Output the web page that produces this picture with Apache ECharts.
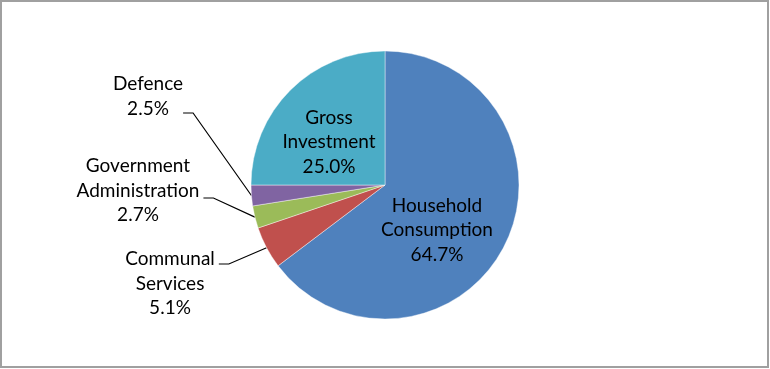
<!DOCTYPE html>
<html><head><meta charset="utf-8">
<script src="https://cdn.jsdelivr.net/npm/echarts@6/dist/echarts.min.js"></script>
<style>
html,body{margin:0;padding:0;background:#fff;}
#wrap{position:absolute;left:0;top:0;width:769px;height:368px;box-sizing:border-box;border:2px solid #a0a0a0;background:#fff;}
#chart{position:absolute;left:0;top:0;width:765px;height:364px;}
</style></head>
<body><div id="wrap"><div id="chart"></div></div>
<script>
const categories = ['Household\nConsumption', 'Communal\nServices', 'Government\nAdministration', 'Defence', 'Gross\nInvestment'];
const values = [64.7, 5.1, 2.7, 2.5, 25.0];
const colors = ['#4F81BD', '#C0504D', '#9BBB59', '#8064A2', '#4BACC6'];
// label box positions (px, relative to chart div), vertical alignment and paddings
const labelPos = [[435, 228], [170, 205.75], [138, 151.75], [146, 69.75], [327, 140]];
const labelVA = ['middle', 'top', 'top', 'top', 'middle'];
const labelPad = [[0, 0, 0, 0], [39, 4, 0, 0], [0, 4, 15, 0], [0, 0, 33.5, 0], [0, 0, 0, 0]];
const inside = [true, false, false, false, true];

const chart = echarts.init(document.getElementById('chart'), null, {renderer: 'canvas'});
const data = categories.map((c, i) => ({
  name: c,
  value: values[i],
  itemStyle: {color: colors[i]},
  label: {position: inside[i] ? 'inside' : 'outside', padding: labelPad[i]},
  labelLine: {show: !inside[i]}
}));
chart.setOption({
  animation: false,
  series: [{
    type: 'pie',
    center: [383, 183],
    radius: [0, 134],
    startAngle: 90,
    clockwise: true,
    avoidLabelOverlap: false,
    data: data,
    itemStyle: {borderColor: 'rgba(255,255,255,0.6)', borderWidth: 0.7},
    label: {
      show: true,
      formatter: p => p.name + '\n' + p.value.toFixed(1) + '%',
      fontFamily: 'Lato',
      fontSize: 19,
      lineHeight: 24.5,
      color: '#000',
      align: 'center'
    },
    labelLine: {
      show: true,
      length: 20,
      length2: 10,
      smooth: false,
      lineStyle: {color: '#000', width: 1.2}
    },
    labelLayout: function (p) {
      const i = p.dataIndex;
      return {x: labelPos[i][0], y: labelPos[i][1], align: 'center', verticalAlign: labelVA[i]};
    }
  }]
});
</script>
</body></html>
